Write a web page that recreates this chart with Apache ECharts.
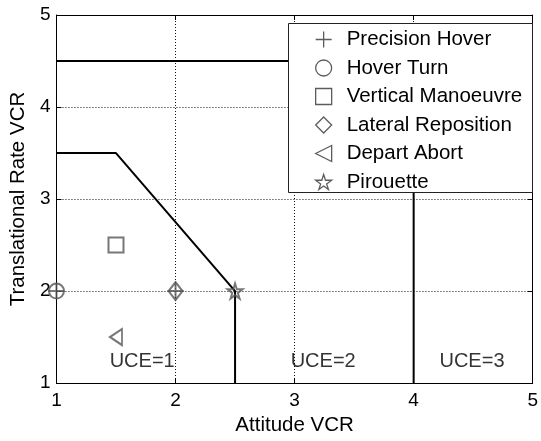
<!DOCTYPE html>
<html>
<head>
<meta charset="utf-8">
<script src="https://cdn.jsdelivr.net/npm/echarts@6/dist/echarts.min.js"></script>
<style>
  html, body { margin: 0; padding: 0; background: #fff; }
  #chart { width: 541px; height: 441px; }
</style>
</head>
<body>
<div id="chart"></div>
<script>
// axis ticks
const xTicks = [1, 2, 3, 4, 5]
const yTicks = [1, 2, 3, 4, 5]

// manoeuvre points [attitude, translational rate]
const precisionHover = [[1, 2], [2, 2]]
const hoverTurn = [[1, 2]]
const verticalManoeuvre = [[1.5, 2.5]]
const lateralReposition = [[2, 2]]
const departAbort = [[1.5, 1.5]]
const pirouette = [[2.5, 2]]

// UCE boundaries
const boundary12 = [[1, 3.5], [1.5, 3.5], [2.5, 2], [2.5, 1]]
const boundary23 = [[1, 4.5], [4, 4.5], [4, 1]]

// region labels
const uceLabels = [[1.72, 1.24, 'UCE=1'], [3.24, 1.24, 'UCE=2'], [4.49, 1.24, 'UCE=3']]

const FONT = 'Liberation Sans, Arial, sans-serif'
const MARK = '#555'

const chart = echarts.init(document.getElementById('chart'))

// point series helper
const pointSeries = (name, data, symbol, size, rotate) => ({
  name,
  type: 'scatter',
  data,
  symbol,
  symbolSize: size,
  symbolRotate: rotate || 0,
  z: 5,
  itemStyle: { color: 'rgba(0,0,0,0)', borderColor: MARK, borderWidth: 2 }
})

const boundarySeries = (data) => ({
  type: 'line',
  data,
  symbol: 'none',
  z: 3,
  silent: true,
  lineStyle: { color: '#000', width: 2 }
})

const axisBase = {
  type: 'value',
  min: 1,
  max: 5,
  interval: 1,
  axisLine: { show: true, onZero: false, lineStyle: { color: '#000', width: 1 } },
  axisTick: { show: true, inside: true, length: 5, lineStyle: { color: '#000' } }
}

const options = {
  animation: false,
  backgroundColor: '#fff',
  grid: { left: 56, right: 5, top: 15, bottom: 52 },
  xAxis: [
    {
      ...axisBase,
      position: 'bottom',
      name: 'Attitude VCR',
      nameLocation: 'middle',
      nameGap: 28,
      nameTextStyle: { fontFamily: FONT, fontSize: 20.5, color: '#000' },
      axisLabel: { fontFamily: FONT, fontSize: 19, color: '#000', margin: 8 },
      splitLine: { show: true, lineStyle: { color: '#111', type: [1, 2], width: 1 } }
    },
    {
      ...axisBase,
      position: 'top',
      axisLabel: { show: false },
      splitLine: { show: false }
    }
  ],
  yAxis: [
    {
      ...axisBase,
      position: 'left',
      name: 'Translational Rate VCR',
      nameLocation: 'middle',
      nameGap: 27,
      nameTextStyle: { fontFamily: FONT, fontSize: 20.5, color: '#000' },
      axisLabel: { fontFamily: FONT, fontSize: 19, color: '#000', margin: 6 },
      splitLine: { show: true, lineStyle: { color: '#111', type: [1, 2], width: 1 } }
    },
    {
      ...axisBase,
      position: 'right',
      axisLabel: { show: false },
      splitLine: { show: false }
    }
  ],
  // legend box
  graphic: [
    {
      type: 'rect',
      left: 288,
      top: 23,
      z: 50,
      shape: { width: 244, height: 169 },
      style: { fill: '#fff', stroke: '#222', lineWidth: 1 }
    }
  ],
  legend: {
    orient: 'vertical',
    left: 310,
    top: 24,
    z: 60,
    itemWidth: 16,
    itemHeight: 16,
    itemGap: 7.5,
    itemStyle: { borderColor: '#333', borderWidth: 1.3 },
    textStyle: { fontFamily: FONT, fontSize: 20.5, color: '#000', lineHeight: 20, padding: [0, 0, 0, 10] },
    data: ['Precision Hover', 'Hover Turn', 'Vertical Manoeuvre', 'Lateral Reposition', 'Depart Abort', 'Pirouette']
  },
  series: [
    boundarySeries(boundary12),
    boundarySeries(boundary23),
    pointSeries('Precision Hover', precisionHover, 'path://M50,0 L50,100 M0,50 L100,50', 16),
    pointSeries('Hover Turn', hoverTurn, 'circle', 15),
    pointSeries('Vertical Manoeuvre', verticalManoeuvre, 'rect', 15),
    pointSeries('Lateral Reposition', lateralReposition, 'diamond', [14, 18]),
    pointSeries('Depart Abort', departAbort, 'path://M0,50 L100,0 L100,100 Z', [12, 16]),
    pointSeries('Pirouette', pirouette, 'path://M50,0 L61,35 L98,35 L68,57 L79,91 L50,70 L21,91 L32,57 L2,35 L39,35 Z', 15),
    {
      type: 'scatter',
      data: uceLabels,
      symbolSize: 0,
      silent: true,
      z: 4,
      label: {
        show: true,
        position: 'inside',
        formatter: (p) => p.value[2],
        fontFamily: FONT,
        fontSize: 20,
        color: '#000'
      }
    }
  ]
}

chart.setOption(options)
</script>
</body>
</html>
